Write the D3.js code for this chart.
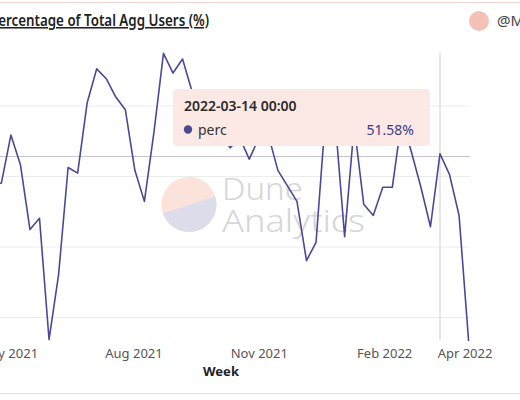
<!DOCTYPE html>
<html>
<head>
<meta charset="utf-8">
<script src="https://cdn.jsdelivr.net/npm/d3@7"></script>
<style>
  html, body { margin: 0; padding: 0; background: #fff; }
  svg { display: block; font-family: "Noto Sans", "Open Sans", sans-serif; }
</style>
</head>
<body>
<div id="chart"></div>
<script>
// weekly share of aggregator users (%), week starting Mondays
var weeks = ["2021-04-19","2021-04-26","2021-05-03","2021-05-10","2021-05-17","2021-05-24","2021-05-31",
    "2021-06-07","2021-06-14","2021-06-21","2021-06-28","2021-07-05","2021-07-12","2021-07-19","2021-07-26",
    "2021-08-02","2021-08-09","2021-08-16","2021-08-23","2021-08-30","2021-09-06","2021-09-13","2021-09-20",
    "2021-09-27","2021-10-04","2021-10-11","2021-10-18","2021-10-25","2021-11-01","2021-11-08","2021-11-15",
    "2021-11-22","2021-11-29","2021-12-06","2021-12-13","2021-12-20","2021-12-27","2022-01-03","2022-01-10",
    "2022-01-17","2022-01-24","2022-01-31","2022-02-07","2022-02-14","2022-02-21","2022-02-28","2022-03-07",
    "2022-03-14","2022-03-21","2022-03-28","2022-04-04"];
var perc = [49.3, 49.5, 52.9, 50.8, 46.2, 47.0, 38.4, 43.0, 50.6, 50.2, 55.2, 57.6, 56.9, 55.6, 54.7,
    50.4, 48.2, 53.1, 58.7, 57.3, 58.3, 56.0, 55.0, 53.6, 52.9, 52.0, 52.7, 51.2, 52.7, 52.9,
    50.4, 49.3, 48.2, 44.0, 45.3, 54.3, 54.0, 45.7, 53.6, 48.0, 47.2, 49.2, 49.2, 54.1, 51.7,
    49.2, 46.4, 51.58, 50.1, 47.2, 38.3];
var gridValues = [40, 45, 50, 55];
var xTickDates = ["2021-05-01", "2021-08-01", "2021-11-01", "2022-02-01", "2022-04-01"];
var hoverWeek = "2022-03-14";

var W = 520, H = 400;
var parse = d3.utcParse("%Y-%m-%d");
var data = weeks.map(function(w, i) { return { date: parse(w), value: perc[i] }; });

var svg = d3.select("#chart").append("svg").attr("width", W).attr("height", H);

// frame lines (top / bottom of the card)
svg.append("line").attr("x1", 0).attr("x2", W).attr("y1", 2.5).attr("y2", 2.5)
    .attr("stroke", "#f1d6cf").attr("stroke-width", 1);
svg.append("line").attr("x1", 0).attr("x2", W).attr("y1", 393.5).attr("y2", 393.5)
    .attr("stroke", "#efdcd3").attr("stroke-width", 1);

// title (its first letter is cut off in the original view)
svg.append("text").attr("x", -10).attr("y", 26)
    .attr("textLength", 219).attr("lengthAdjust", "spacingAndGlyphs")
    .attr("font-size", 15.5).attr("font-weight", 600).attr("fill", "#222")
    .style("text-decoration", "underline")
    .text("Percentage of Total Agg Users (%)");

// author badge, cut at the right edge
svg.append("circle").attr("cx", 479).attr("cy", 21).attr("r", 10).attr("fill", "#f4c1b7");
svg.append("text").attr("x", 497).attr("y", 26).attr("font-size", 15).attr("fill", "#444").text("@M");

// scales: x by week date, y in percent
var x = d3.scaleUtc().domain([parse("2021-08-01"), parse("2022-03-14")]).range([133.5, 440]);
var y = d3.scaleLinear().domain([40, 55]).range([317, 105.5]);

// grid
var grid = svg.append("g").attr("class", "grid")
    .call(d3.axisLeft(y).tickValues(gridValues).tickSize(-470).tickFormat(""));
grid.select(".domain").remove();
grid.selectAll(".tick line").attr("stroke", "#ececec").attr("stroke-width", 1);

// watermark
var wm = svg.append("g").attr("class", "watermark");
var cx = 189, cy = 204.5, r = 27.5;
wm.append("clipPath").attr("id", "wmclip").append("circle").attr("cx", cx).attr("cy", cy).attr("r", r);
wm.append("circle").attr("cx", cx).attr("cy", cy).attr("r", r).attr("fill", "#fbe2da");
wm.append("path").attr("clip-path", "url(#wmclip)")
    .attr("d", "M" + (cx - r - 2) + "," + (cy + 10) + " L" + (cx + r + 2) + "," + (cy - 9) +
        " L" + (cx + r + 2) + "," + (cy + r + 2) + " L" + (cx - r - 2) + "," + (cy + r + 2) + "Z")
    .attr("fill", "#dcdcea");
wm.append("text").attr("x", 222).attr("y", 200).attr("font-size", 32).attr("font-weight", 300)
    .attr("textLength", 81).attr("lengthAdjust", "spacingAndGlyphs")
    .attr("fill", "#d6d6d6").text("Dune");
wm.append("text").attr("x", 222).attr("y", 232).attr("font-size", 32).attr("font-weight", 300)
    .attr("textLength", 143).attr("lengthAdjust", "spacingAndGlyphs")
    .attr("fill", "#d6d6d6").text("Analytics");

// crosshair
var hx = x(parse(hoverWeek));
svg.append("line").attr("x1", hx).attr("x2", hx).attr("y1", 53).attr("y2", 340)
    .attr("stroke", "#cfcfcf").attr("stroke-width", 1);
svg.append("line").attr("x1", 0).attr("x2", 470).attr("y1", 156.5).attr("y2", 156.5)
    .attr("stroke", "#c6c6cc").attr("stroke-width", 1);

// the line
var line = d3.line().x(function(d) { return x(d.date); }).y(function(d) { return y(d.value); });
svg.append("path").datum(data).attr("d", line)
    .attr("fill", "none").attr("stroke", "#4b4994").attr("stroke-width", 1.6)
    .attr("stroke-linejoin", "round");

// x axis
var xAxis = svg.append("g").attr("transform", "translate(0,345)")
    .call(d3.axisBottom(x).tickValues(xTickDates.map(parse)).tickSize(0).tickFormat(d3.utcFormat("%b %Y")));
xAxis.select(".domain").remove();
xAxis.selectAll("text").attr("font-size", 13).attr("fill", "#555").attr("dy", "0.71em").attr("y", 4)
    .style("font-family", "'Noto Sans', sans-serif");
svg.append("text").attr("x", 221).attr("y", 376).attr("text-anchor", "middle")
    .attr("font-size", 13).attr("font-weight", 700).attr("fill", "#222").text("Week");

// tooltip
var hv = data.filter(function(d) { return +d.date === +parse(hoverWeek); })[0];
var tip = svg.append("g").attr("class", "tooltip");
tip.append("rect").attr("x", 173).attr("y", 89).attr("width", 257).attr("height", 57).attr("rx", 4)
    .attr("fill", "#fce9e6");
tip.append("text").attr("x", 184).attr("y", 111).attr("font-size", 14).attr("font-weight", 600)
    .attr("fill", "#2b2b2b").text(d3.utcFormat("%Y-%m-%d %H:%M")(hv.date));
tip.append("circle").attr("cx", 188).attr("cy", 129.5).attr("r", 4.2).attr("fill", "#4b4994");
tip.append("text").attr("x", 198).attr("y", 134.5).attr("font-size", 14).attr("fill", "#333").text("perc");
tip.append("text").attr("x", 414).attr("y", 134.5).attr("text-anchor", "end").attr("font-size", 14)
    .attr("fill", "#3c3a85").text(hv.value.toFixed(2) + "%");
</script>
</body>
</html>
